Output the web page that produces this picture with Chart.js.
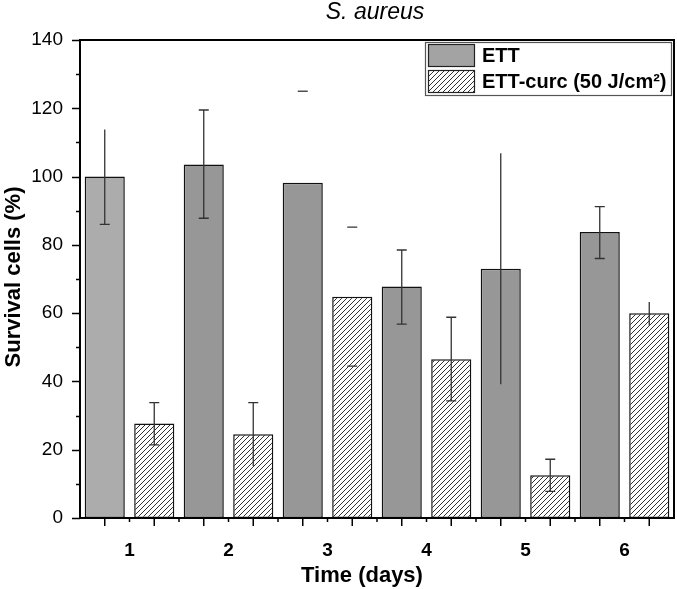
<!DOCTYPE html>
<html>
<head>
<meta charset="utf-8">
<script src="https://cdn.jsdelivr.net/npm/chart.js@4.4.0/dist/chart.umd.min.js"></script>
<style>
  html, body { margin: 0; padding: 0; background: #fff; }
  #wrap { width: 677px; height: 589px; }
</style>
</head>
<body>
<div id="wrap"><canvas id="myChart" width="677" height="589"></canvas></div>
<script>
// values
const days = ['1', '2', '3', '4', '5', '6'];
const ett = [100, 103.5, 98.2, 67.8, 73.0, 83.8];
const ettHigh = [113.8, 119.5, 125, 78.5, 106.8, 91.2];
const ettLow = [86, 87.8, 71.6, 56.8, 39.2, 76];
const curc = [27.7, 24.5, 64.8, 46.5, 12.5, 60];
const curcHigh = [33.8, 33.8, 85.2, 58.8, 17.2, 63.3];
const curcLow = [21.4, 15.2, 44.5, 34.3, 7.8, 56.4];
const yTicks = [0, 20, 40, 60, 80, 100, 120, 140];

// how each error bar was drawn in the original (caps: t = top, b = bottom)
const ettCaps = ['b', 'tb', 't', 'tb', '', 'tb'];
const ettStem = [true, true, false, true, true, true];
const curcCaps = ['tb', 't', 'tb', 'tb', 'tb', ''];
const curcStem = [true, true, false, true, true, true];

function hatch() {
    let c = document.createElement('canvas');
    c.width = 5; c.height = 5;
    let g = c.getContext('2d');
    g.fillStyle = '#fff';
    g.fillRect(0, 0, 5, 5);
    g.strokeStyle = '#1a1a1a';
    g.lineWidth = 0.9;
    g.beginPath();
    g.moveTo(-1, 6); g.lineTo(6, -1);
    g.moveTo(-1, 1); g.lineTo(1, -1);
    g.moveTo(4, 6); g.lineTo(6, 4);
    g.stroke();
    return g.createPattern(c, 'repeat');
}

const canvas = document.getElementById('myChart').getContext('2d');
const hatchFill = hatch();
const ettColors = ['#acacac', '#979797', '#979797', '#979797', '#979797', '#979797'];

const decor = {
    id: 'decor',
    afterDatasetsDraw(chart) {
        const ctx = chart.ctx;
        const y = chart.scales.y;

        // error bars
        const sets = [
            [ettHigh, ettLow, ettCaps, ettStem],
            [curcHigh, curcLow, curcCaps, curcStem]
        ];
        ctx.save();
        ctx.strokeStyle = '#333';
        ctx.lineWidth = 1.3;
        sets.forEach((s, di) => {
            chart.getDatasetMeta(di).data.forEach((bar, i) => {
                let x = bar.x;
                let yh = y.getPixelForValue(s[0][i]);
                let yl = y.getPixelForValue(s[1][i]);
                ctx.beginPath();
                if (s[3][i]) { ctx.moveTo(x, yh); ctx.lineTo(x, yl); }
                if (s[2][i].includes('t')) { ctx.moveTo(x - 5, yh); ctx.lineTo(x + 5, yh); }
                if (s[2][i].includes('b')) { ctx.moveTo(x - 5, yl); ctx.lineTo(x + 5, yl); }
                ctx.stroke();
            });
        });
        ctx.restore();
    },
    afterDraw(chart) {
        const ctx = chart.ctx;
        const a = chart.chartArea;
        const y = chart.scales.y;
        ctx.save();

        // frame
        ctx.strokeStyle = '#000';
        ctx.lineWidth = 2;
        ctx.strokeRect(a.left, a.top, a.right - a.left, a.bottom - a.top);

        // y ticks
        ctx.lineWidth = 1.5;
        ctx.beginPath();
        for (let v = 0; v <= 140; v += 10) {
            let py = Math.round(y.getPixelForValue(v)) + 0.5;
            ctx.moveTo(a.left - (v % 20 === 0 ? 8 : 4), py);
            ctx.lineTo(a.left, py);
        }
        // x ticks: long under each bar, short between bars
        let m0 = chart.getDatasetMeta(0).data;
        let m1 = chart.getDatasetMeta(1).data;
        m0.concat(m1).forEach(b => {
            ctx.moveTo(b.x, a.bottom);
            ctx.lineTo(b.x, a.bottom + 8);
        });
        m0.forEach((b, i) => {
            let mid = (b.x + m1[i].x) / 2;
            ctx.moveTo(mid, a.bottom);
            ctx.lineTo(mid, a.bottom + 4);
            if (i < days.length - 1) {
                let m2 = (m1[i].x + m0[i + 1].x) / 2;
                ctx.moveTo(m2, a.bottom);
                ctx.lineTo(m2, a.bottom + 4);
            }
        });
        ctx.stroke();

        // titles
        ctx.fillStyle = '#000';
        ctx.textAlign = 'center';
        ctx.textBaseline = 'middle';
        ctx.font = 'italic 23px "Liberation Sans", Arial, sans-serif';
        ctx.fillText('S. aureus', 375, 13);
        ctx.font = 'bold 22px "Liberation Sans", Arial, sans-serif';
        ctx.fillText('Time (days)', 362, 576);
        ctx.save();
        ctx.translate(14, 277);
        ctx.rotate(-Math.PI / 2);
        ctx.fillText('Survival cells (%)', 0, 0);
        ctx.restore();

        // legend
        ctx.fillStyle = '#fff';
        ctx.fillRect(425.5, 42.5, 246, 53);
        ctx.strokeStyle = '#555';
        ctx.lineWidth = 1.2;
        ctx.strokeRect(425.5, 42.5, 246, 53);
        ctx.fillStyle = '#a3a3a3';
        ctx.fillRect(428.5, 44.5, 46, 22);
        ctx.fillStyle = hatchFill;
        ctx.fillRect(428.5, 70.5, 46, 22);
        ctx.strokeStyle = '#222';
        ctx.lineWidth = 1.2;
        ctx.strokeRect(428.5, 44.5, 46, 22);
        ctx.strokeRect(428.5, 70.5, 46, 22);
        ctx.fillStyle = '#000';
        ctx.textAlign = 'left';
        ctx.font = 'bold 20px "Liberation Sans", Arial, sans-serif';
        ctx.fillText('ETT', 482, 56);
        ctx.fillText('ETT-curc (50 J/cm²)', 482, 82);

        ctx.restore();
    }
};

const chart = new Chart(canvas, {
    type: 'bar',
    data: {
        labels: days,
        datasets: [{
            label: 'ETT',
            data: ett,
            backgroundColor: ettColors,
            borderColor: '#111',
            borderWidth: 1.5,
            borderSkipped: false,
            categoryPercentage: 1.0,
            barPercentage: 0.81
        }, {
            label: 'ETT-curc (50 J/cm²)',
            data: curc,
            backgroundColor: hatchFill,
            borderColor: '#111',
            borderWidth: 1.5,
            borderSkipped: false,
            categoryPercentage: 1.0,
            barPercentage: 0.81
        }]
    },
    options: {
        responsive: false,
        animation: false,
        devicePixelRatio: 1,
        layout: { padding: { top: 40, right: 3, left: 0, bottom: 0 } },
        plugins: {
            legend: { display: false },
            tooltip: { enabled: false }
        },
        scales: {
            x: {
                grid: { display: false, drawTicks: false },
                border: { display: false },
                ticks: {
                    padding: 21,
                    color: '#000',
                    font: { family: '"Liberation Sans", Arial, sans-serif', size: 19, weight: 'bold' }
                },
                afterFit: s => { s.height = 71; }
            },
            y: {
                min: 0,
                max: 140,
                afterBuildTicks: s => { s.ticks = yTicks.map(v => ({ value: v })); },
                grid: { display: false, drawTicks: false },
                border: { display: false },
                ticks: {
                    padding: 17,
                    color: '#000',
                    font: { family: '"Liberation Sans", Arial, sans-serif', size: 19 }
                },
                afterFit: s => { s.width = 80; }
            }
        }
    },
    plugins: [decor]
});
</script>
</body>
</html>
